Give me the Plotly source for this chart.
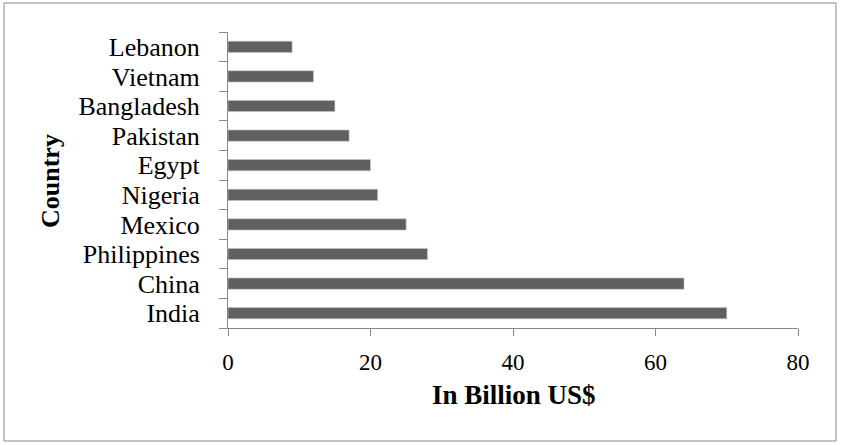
import plotly.graph_objects as go

countries = ["India", "China", "Philippines", "Mexico", "Nigeria", "Egypt",
             "Pakistan", "Bangladesh", "Vietnam", "Lebanon"]
values = [70, 64, 28, 25, 21, 20, 17, 15, 12, 9]
x_ticks = [0, 20, 40, 60, 80]

W, H = 841, 445
L, R, T, B = 228, 43, 32, 117
pw, ph = W - L - R, H - T - B

def px_x(p):
    return (p - L) / pw

def px_y(p):
    return (H - B - p) / ph

FONT = "Liberation Serif, Times New Roman, serif"

fig = go.Figure(go.Bar(
    y=countries, x=values, orientation="h",
    marker=dict(color="#606060", line=dict(color="#c8c8c8", width=0.6)),
    width=0.38,
))

fig.update_layout(
    width=W, height=H,
    margin=dict(l=L, r=R, t=T, b=B, autoexpand=False),
    paper_bgcolor="white", plot_bgcolor="white",
    showlegend=False,
    font=dict(family=FONT, size=25, color="black"),
    xaxis=dict(
        range=[0, 80], tickmode="array", tickvals=x_ticks,
        ticktext=[str(v) for v in x_ticks],
        showgrid=False, zeroline=False, automargin=False,
        showline=True, linecolor="#878787", linewidth=1,
        ticks="outside", ticklen=7, tickcolor="#878787",
        ticklabelstandoff=6,
        tickfont=dict(family=FONT, size=23),
    ),
    yaxis=dict(
        tickmode="array", tickvals=countries, ticktext=countries,
        range=[-0.5, len(countries) - 0.5],
        showgrid=False, zeroline=False, automargin=False,
        showline=True, linecolor="#878787", linewidth=1,
        ticks="outside", ticklen=8, tickcolor="#878787",
        tickson="boundaries",
        ticklabelstandoff=22,
        tickfont=dict(family=FONT, size=26),
    ),
    bargap=0.6,
)

fig.add_annotation(text="<b>In Billion US$</b>", xref="paper", yref="paper",
                   x=px_x(514), y=px_y(395), showarrow=False,
                   xanchor="center", yanchor="middle",
                   font=dict(family=FONT, size=27, color="black"))
fig.add_annotation(text="<b>Country</b>", xref="paper", yref="paper",
                   x=px_x(50), y=px_y(181), showarrow=False, textangle=-90,
                   xanchor="center", yanchor="middle",
                   font=dict(family=FONT, size=26, color="black"))

fig.add_shape(type="rect", xref="paper", yref="paper",
              x0=px_x(4), x1=px_x(836), y0=px_y(441), y1=px_y(3),
              line=dict(color="#888888", width=1), fillcolor="rgba(0,0,0,0)",
              layer="below")

fig.write_html("out.html", config={"displayModeBar": False},
               post_script="document.body.style.margin='0';")
